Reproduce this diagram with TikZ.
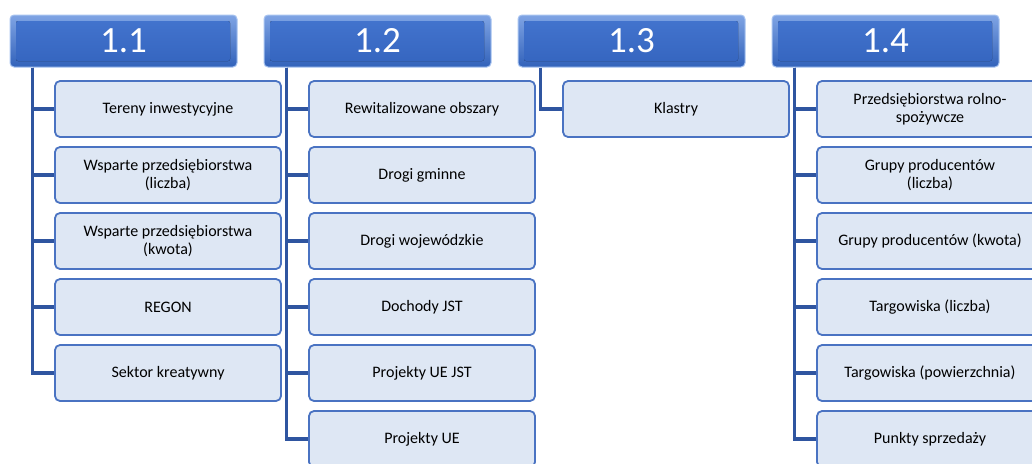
\documentclass[tikz,border=0pt]{standalone}
\usepackage{fontspec}
\setmainfont{Carlito}
\usetikzlibrary{calc}
\definecolor{hdtop}{HTML}{7FA4E4}
\definecolor{hdbot}{HTML}{3262BA}
\definecolor{facetop}{HTML}{4475CF}
\definecolor{facebot}{HTML}{3464BE}
\definecolor{hdedge}{HTML}{A8C4F0}
\definecolor{leaffill}{HTML}{DEE7F4}
\definecolor{leafedge}{HTML}{4A73C2}
\definecolor{treeline}{HTML}{2F55A0}
\tikzstyle{header}=[shape=rectangle, rounded corners=4pt, minimum width=227pt, minimum height=52pt, inner sep=0, top color=hdtop, bottom color=hdbot, draw=hdedge, line width=1pt, text=white, font=\fontsize{37}{37}\selectfont,
  path picture={\fill[rounded corners=2pt, top color=facetop, bottom color=facebot] ($(path picture bounding box.north west)+(6,6)$) rectangle ($(path picture bounding box.south east)+(-7,-6)$);}]
\tikzstyle{leaf}=[shape=rectangle, rounded corners=5pt, minimum width=226pt, minimum height=56pt, inner sep=0, fill=leaffill, draw=leafedge, line width=1.8pt, align=center, font=\fontsize{16}{18.5}\selectfont]
\tikzstyle{branch}=[draw=treeline, line width=3.5pt]
\newcommand{\KPbranch}[2]{\draw[branch] ($(#1.south west)+(23,0)$) |- (#2.west);}

\begin{document}
\begin{tikzpicture}[x=1pt, y=-1pt]
\useasboundingbox (0,0) rectangle (1032,463);
\clip (0,0) rectangle (1032,463);
% headers
\node[header] (h1) at (123.5,41) {1.1};
\node[header] (h2) at (377.5,41) {1.2};
\node[header] (h3) at (631.5,41) {1.3};
\node[header] (h4) at (885.5,41) {1.4};
% 1.1
\node[leaf] (c11) at (168,109) {Tereny inwestycyjne};
\node[leaf] (c12) at (168,175) {Wsparte przedsiębiorstwa\\(liczba)};
\node[leaf] (c13) at (168,241) {Wsparte przedsiębiorstwa\\(kwota)};
\node[leaf] (c14) at (168,307) {REGON};
\node[leaf] (c15) at (168,373) {Sektor kreatywny};
% 1.2
\node[leaf] (c21) at (422,109) {Rewitalizowane obszary};
\node[leaf] (c22) at (422,175) {Drogi gminne};
\node[leaf] (c23) at (422,241) {Drogi wojewódzkie};
\node[leaf] (c24) at (422,307) {Dochody JST};
\node[leaf] (c25) at (422,373) {Projekty UE JST};
\node[leaf] (c26) at (422,439) {Projekty UE};
% 1.3
\node[leaf] (c31) at (676,109) {Klastry};
% 1.4
\node[leaf] (c41) at (930,109) {Przedsiębiorstwa rolno-\\spożywcze};
\node[leaf] (c42) at (930,175) {Grupy producentów\\(liczba)};
\node[leaf] (c43) at (930,241) {Grupy producentów (kwota)};
\node[leaf] (c44) at (930,307) {Targowiska (liczba)};
\node[leaf] (c45) at (930,373) {Targowiska (powierzchnia)};
\node[leaf] (c46) at (930,439) {Punkty sprzedaży};
% branches
\foreach \i in {1,...,5} {\KPbranch{h1}{c1\i}}
\foreach \i in {1,...,6} {\KPbranch{h2}{c2\i}}
\KPbranch{h3}{c31}
\foreach \i in {1,...,6} {\KPbranch{h4}{c4\i}}
\end{tikzpicture}
\end{document}
